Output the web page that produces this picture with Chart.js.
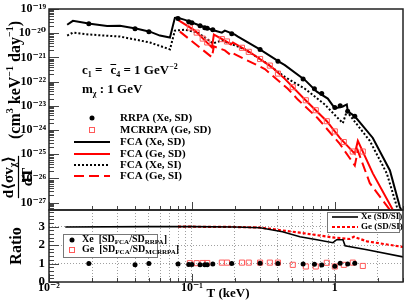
<!DOCTYPE html>
<html>
<head>
<meta charset="utf-8">
<title>FCA vs RRPA</title>
<script src="https://cdn.jsdelivr.net/npm/chart.js@4.4.1/dist/chart.umd.min.js"></script>
<style>
  html, body { margin: 0; padding: 0; background: #fff; }
  .wrap { position: relative; width: 415px; height: 300px; }
  .wrap canvas { position: absolute; left: 0; top: 0; }
</style>
</head>
<body>
<div class="wrap">
  <canvas id="ratioChart" width="415" height="300"></canvas>
  <canvas id="rateChart" width="415" height="300"></canvas>
</div>
<script>
// T in keV, d<sigma v>/dT in cm^3 keV^-1 day^-1
const xeSdT   = [0.0134, 0.0147, 0.0194, 0.0255, 0.0314, 0.0413, 0.0508, 0.0597, 0.0702, 0.0760, 0.0786, 0.0893, 0.110, 0.138, 0.162, 0.170, 0.200, 0.210, 0.299, 0.412, 0.447, 0.617, 0.748, 0.893, 1.00, 1.138, 1.213, 1.233, 1.38, 1.845, 2.43, 2.85, 2.92];
const xeSdVal = [2.24e-20, 3.25e-20, 2.45e-20, 2.0e-20, 2.04e-20, 1.54e-20, 1.16e-20, 7.98e-21, 6.62e-21, 4.31e-20, 4.4e-20, 3.57e-20, 2.24e-20, 1.40e-20, 1.06e-20, 1.28e-20, 8.77e-21, 7.28e-21, 2.15e-21, 6.38e-22, 4.82e-22, 1.18e-22, 3.85e-23, 2.0e-23, 7.84e-24, 9.46e-24, 1.14e-23, 5.92e-24, 3.70e-24, 4.73e-25, 2.15e-26, 6.75e-28, 5.0e-28];

const xeSiT   = [0.0134, 0.0147, 0.0194, 0.0314, 0.0508, 0.0702, 0.0760, 0.0893, 0.110, 0.129, 0.140, 0.162, 0.200, 0.235, 0.324, 0.447, 0.617, 0.851, 1.00, 1.138, 1.213, 1.758, 2.31, 2.72, 2.78];
const xeSiVal = [7.98e-21, 1.06e-20, 8.77e-21, 7.28e-21, 4.15e-21, 2.15e-21, 1.28e-20, 1.40e-20, 1.06e-20, 5.49e-21, 3.8e-21, 5.0e-21, 3.13e-21, 2.15e-21, 6.38e-22, 1.57e-22, 5.10e-23, 1.14e-23, 4.2e-24, 1.93e-24, 5.92e-24, 3.57e-25, 1.63e-26, 6.75e-28, 5.0e-28];

const geSdT   = [0.0798, 0.105, 0.138, 0.1425, 0.170, 0.1875, 0.1935, 0.255, 0.362, 0.447, 0.617, 0.879, 1.084, 1.38, 1.449, 1.845, 2.55];
const geSdVal = [3.57e-20, 1.28e-20, 2.60e-21, 8.77e-21, 5.0e-21, 3.44e-21, 4.15e-21, 1.63e-21, 4.0e-22, 1.30e-22, 1.82e-23, 2.32e-24, 4.73e-25, 1.06e-25, 3.57e-25, 1.63e-26, 5.0e-28];

const geSiT   = [0.0824, 0.138, 0.1425, 0.170, 0.1875, 0.1935, 0.324, 0.469, 0.551, 0.760, 1.084, 1.38, 1.449, 1.758, 2.43];
const geSiVal = [1.16e-20, 1.02e-21, 2.85e-21, 1.96e-21, 1.23e-21, 1.48e-21, 3.31e-22, 5.10e-23, 1.82e-23, 3.07e-24, 2.70e-25, 3.44e-26, 1.40e-25, 6.38e-27, 5.0e-28];

const rrpaT   = [0.019, 0.040, 0.050, 0.080, 0.095, 0.100, 0.114, 0.123, 0.128, 0.140, 0.190, 0.300, 0.400, 0.600, 0.720, 0.810, 1.00, 1.09, 1.23, 1.38];
const rrpaVal = [2.45e-20, 1.54e-20, 1.16e-20, 4.1e-20, 2.96e-20, 2.7e-20, 2.04e-20, 1.69e-20, 1.6e-20, 1.40e-20, 9.6e-21, 2.15e-21, 7.01e-22, 1.30e-22, 5.10e-23, 3.2e-23, 8.6e-24, 1.0e-23, 5.92e-24, 3.70e-24];
const rrpaRatio = [1.0, 0.93, 1.0, 0.98, 0.95, 0.95, 0.94, 0.94, 0.94, 0.97, 1.0, 1.02, 1.0, 0.98, 0.96, 0.92, 0.85, 1.02, 0.97, 1.02];

const mcrrpaT   = [0.0968, 0.108, 0.119, 0.128, 0.162, 0.176, 0.224, 0.250, 0.300, 0.351, 0.400, 0.508, 0.627, 0.736, 0.879, 1.00, 1.156, 1.336, 1.57];
const mcrrpaVal = [1.72e-20, 1.06e-20, 6.0e-21, 4.15e-21, 5.7e-21, 4.56e-21, 2.5e-21, 1.7e-21, 8.6e-22, 4.6e-22, 2.15e-22, 5.9e-23, 1.7e-23, 6.6e-24, 2.32e-24, 8.8e-25, 3.2e-25, 1.3e-25, 1.3e-25];
const mcrrpaRatio = [1.02, 1.02, 1.03, 1.03, 1.05, 1.05, 1.05, 1.05, 1.05, 1.05, 1.05, 0.93, 0.84, 0.84, 1.04, 0.84, 0.93, 1.05, 0.87];

// SD/SI ratios
const xeRatioT   = [0.013, 0.05, 0.1, 0.2, 0.3, 0.43, 0.57, 0.75, 0.97, 1.03, 1.14, 1.18, 1.68, 3.0];
const xeRatioVal = [2.98, 3.0, 3.0, 2.98, 2.94, 2.72, 2.45, 2.29, 2.13, 2.29, 2.29, 1.96, 1.75, 1.36];
const geRatioT   = [0.08, 0.2, 0.3, 0.57, 1.0, 1.27, 1.36, 1.68, 3.0];
const geRatioVal = [3.0, 2.98, 2.95, 2.67, 2.4, 2.33, 2.45, 2.2, 1.9];

// axis ticks
const rateDecades = [1e-27, 1e-26, 1e-25, 1e-24, 1e-23, 1e-22, 1e-21, 1e-20, 1e-19];
const tDecades = [0.01, 0.1, 1];
const ratioLabels = [0, 1, 2, 3];

const FONT = "'Liberation Serif', 'DejaVu Serif', serif";
const bold = s => `bold ${s}px ${FONT}`;
Chart.defaults.font.family = FONT;
Chart.defaults.color = '#000';

const SUP = {'-': '⁻', '0': '⁰', '1': '¹', '2': '²', '3': '³', '4': '⁴', '5': '⁵', '6': '⁶', '7': '⁷', '8': '⁸', '9': '⁹'};
function powLabel(v) {
    const e = Math.round(Math.log10(v));
    if (e === 0) return '1';
    return '10' + String(e).split('').map(c => SUP[c]).join('');
}
function isDecade(v) {
    return Math.abs(Math.log10(v) - Math.round(Math.log10(v))) < 1e-6;
}
function pts(xs, ys) {
    return xs.map((x, i) => ({ x: x, y: ys[i] }));
}
// decades plus 2..9 minor values between given limits
function logTicks(lo, hi) {
    const out = [];
    for (let e = Math.floor(Math.log10(lo)); e <= Math.ceil(Math.log10(hi)); e++) {
        for (let m = 1; m <= 9; m++) {
            const v = Number((m * Math.pow(10, e)).toPrecision(3));
            if (v >= lo * 0.999 && v <= hi * 1.001) out.push(v);
        }
    }
    return out;
}
const tTickValues = logTicks(0.01, 3);
const rateTickValues = logTicks(5e-28, 1e-19);
const ratioTickValues = [];
for (let i = 0; i <= 19; i++) ratioTickValues.push(i / 5);

// rich text: parts = [[text, 'sub'|'sup'|null], ...]
function richWidth(ctx, parts, size) {
    let w = 0;
    parts.forEach(([t, mode]) => {
        ctx.font = bold(mode ? Math.round(size * 0.65) : size);
        w += ctx.measureText(t).width;
    });
    return w;
}
function richText(ctx, parts, x, y, size) {
    let cx = x;
    parts.forEach(([t, mode]) => {
        ctx.font = bold(mode ? Math.round(size * 0.65) : size);
        const dy = mode === 'sub' ? size * 0.3 : mode === 'sup' ? -size * 0.35 : 0;
        ctx.fillText(t, cx, y + dy);
        cx += ctx.measureText(t).width;
    });
    return cx;
}

function drawSample(ctx, ds, x0, x1, y) {
    ctx.save();
    if (ds.showLine === false) {
        const cx = (x0 + x1) / 2;
        if (ds.pointStyle === 'rect') {
            ctx.strokeStyle = ds.pointBorderColor;
            ctx.lineWidth = 1;
            ctx.strokeRect(cx - 2.5, y - 2.5, 5, 5);
        } else {
            ctx.fillStyle = ds.pointBackgroundColor;
            ctx.beginPath();
            ctx.arc(cx, y, ds.pointRadius, 0, Math.PI * 2);
            ctx.fill();
        }
    } else {
        ctx.strokeStyle = ds.borderColor;
        ctx.lineWidth = ds.borderWidth;
        ctx.setLineDash(ds.borderDash || []);
        ctx.beginPath();
        ctx.moveTo(x0, y);
        ctx.lineTo(x1, y);
        ctx.stroke();
    }
    ctx.restore();
}

// frame and inward tick marks (ROOT style)
const frameTicks = {
    id: 'frameTicks',
    afterDatasetsDraw(chart) {
        const { ctx, chartArea: a, scales } = chart;
        ctx.save();
        ctx.strokeStyle = '#444';
        ctx.lineWidth = 1;
        ctx.beginPath();
        const yVals = scales.y.type === 'logarithmic' ? rateTickValues : ratioTickValues;
        yVals.forEach(v => {
            const major = scales.y.type === 'logarithmic' ? isDecade(v) : Number.isInteger(v);
            const py = Math.round(scales.y.getPixelForValue(v)) + 0.5;
            ctx.moveTo(a.left, py);
            ctx.lineTo(a.left + (major ? 10 : 5), py);
        });
        tTickValues.forEach(v => {
            const px = Math.round(scales.x.getPixelForValue(v)) + 0.5;
            ctx.moveTo(px, a.bottom);
            ctx.lineTo(px, a.bottom - (isDecade(v) ? 8 : 4));
        });
        ctx.stroke();
        ctx.strokeStyle = '#222';
        ctx.lineWidth = 1.5;
        ctx.strokeRect(a.left, a.top, a.right - a.left, a.bottom - a.top);
        ctx.restore();
    }
};

const rateDecor = {
    id: 'rateDecor',
    afterDraw(chart) {
        const ctx = chart.ctx;
        ctx.save();
        ctx.fillStyle = '#000';
        ctx.textBaseline = 'middle';
        ctx.textAlign = 'left';

        // couplings and mass
        let x = richText(ctx, [['c', null], ['1', 'sub'], [' =', null]], 82, 71, 13);
        x += 8;
        const cStart = x;
        x = richText(ctx, [['c', null]], x, 71, 13);
        ctx.strokeStyle = '#000';
        ctx.lineWidth = 1;
        ctx.beginPath();
        ctx.moveTo(cStart, 64.5);
        ctx.lineTo(x, 64.5);
        ctx.stroke();
        richText(ctx, [['4', 'sub'], [' = 1 GeV', null], ['−2', 'sup']], x, 71, 13);
        richText(ctx, [['m', null], ['χ', 'sub'], [' : 1 GeV', null]], 82, 90, 13);

        // legend
        const rows = [118, 130, 142, 154, 165, 176];
        chart.data.datasets.forEach((ds, i) => {
            drawSample(ctx, ds, 74, 110, rows[i]);
            ctx.font = bold(11);
            ctx.fillText(ds.label, 120, rows[i]);
        });

        // y axis title
        ctx.save();
        ctx.translate(16, 80);
        ctx.rotate(-Math.PI / 2);
        ctx.textAlign = 'left';
        const t1 = [['(cm', null], ['3', 'sup'], [' keV', null], ['−1', 'sup'], [' day', null], ['−1', 'sup'], [')', null]];
        richText(ctx, t1, -richWidth(ctx, t1, 16) / 2, 0, 16);
        ctx.restore();

        ctx.save();
        ctx.translate(18, 177);
        ctx.rotate(-Math.PI / 2);
        const num = [['d⟨σv', null], ['χ', 'sub'], ['⟩', null]];
        const nw = richWidth(ctx, num, 15);
        richText(ctx, num, -nw / 2, -9, 15);
        ctx.font = bold(15);
        ctx.textAlign = 'center';
        ctx.fillText('dT', 0, 10);
        ctx.lineWidth = 1.2;
        ctx.beginPath();
        ctx.moveTo(-nw / 2, 0.5);
        ctx.lineTo(nw / 2, 0.5);
        ctx.stroke();
        ctx.restore();

        ctx.restore();
    }
};

const ratioDecor = {
    id: 'ratioDecor',
    afterDraw(chart) {
        const ctx = chart.ctx;
        const ds = chart.data.datasets;
        ctx.save();
        ctx.fillStyle = '#000';
        ctx.textBaseline = 'middle';

        // axis titles
        ctx.save();
        ctx.translate(17, 246);
        ctx.rotate(-Math.PI / 2);
        ctx.textAlign = 'center';
        ctx.font = bold(16);
        ctx.fillText('Ratio', 0, 0);
        ctx.restore();
        ctx.textAlign = 'center';
        ctx.font = bold(13);
        ctx.fillText('T (keV)', 228, 294);
        ctx.textAlign = 'left';

        // left legend box
        ctx.fillStyle = '#fff';
        ctx.fillRect(63, 234, 94, 23);
        ctx.strokeStyle = '#777';
        ctx.lineWidth = 1;
        ctx.strokeRect(63.5, 234.5, 94, 23);
        ctx.fillStyle = '#000';
        drawSample(ctx, ds[0], 67, 77, 240);
        drawSample(ctx, ds[1], 67, 77, 250);
        ctx.fillStyle = '#000';
        richText(ctx, [['Xe  [SD', null], ['FCA', 'sub'], ['/SD', null], ['RRPA', 'sub'], [']', null]], 82, 239, 10);
        richText(ctx, [['Ge  [SD', null], ['FCA', 'sub'], ['/SD', null], ['MCRRPA', 'sub'], [']', null]], 82, 249, 10);

        // right legend box
        ctx.fillStyle = '#fff';
        ctx.fillRect(327, 212, 72, 20);
        ctx.strokeStyle = '#777';
        ctx.strokeRect(327.5, 212.5, 72, 20);
        drawSample(ctx, ds[2], 332, 358, 217);
        drawSample(ctx, ds[3], 332, 358, 227);
        ctx.fillStyle = '#000';
        ctx.font = bold(9);
        ctx.fillText(ds[2].label, 361, 217);
        ctx.fillText(ds[3].label, 361, 227);
        ctx.restore();
    }
};

const tickFont = { family: FONT, size: 12, weight: 'bold', lineHeight: 1 };

new Chart(document.getElementById('rateChart'), {
    type: 'line',
    data: {
        datasets: [
            { label: 'RRPA (Xe, SD)', data: pts(rrpaT, rrpaVal), showLine: false,
              pointRadius: 2.5, pointBackgroundColor: '#000', pointBorderColor: '#000', pointBorderWidth: 0 },
            { label: 'MCRRPA (Ge, SD)', data: pts(mcrrpaT, mcrrpaVal), showLine: false, pointStyle: 'rect',
              pointRadius: 3.6, pointBackgroundColor: 'rgba(0,0,0,0)', pointBorderColor: '#ff5a5a', pointBorderWidth: 1 },
            { label: 'FCA (Xe, SD)', data: pts(xeSdT, xeSdVal), borderColor: '#000', borderWidth: 2, pointRadius: 0 },
            { label: 'FCA (Ge, SD)', data: pts(geSdT, geSdVal), borderColor: '#ff0000', borderWidth: 2, pointRadius: 0 },
            { label: 'FCA (Xe, SI)', data: pts(xeSiT, xeSiVal), borderColor: '#000', borderWidth: 2, borderDash: [2, 2], pointRadius: 0 },
            { label: 'FCA (Ge, SI)', data: pts(geSiT, geSiVal), borderColor: '#ff0000', borderWidth: 2, borderDash: [10, 5], pointRadius: 0 }
        ]
    },
    options: {
        responsive: false,
        animation: false,
        events: [],
        layout: { padding: { left: 0, top: 6, right: 12, bottom: 90 } },
        plugins: { legend: { display: false }, tooltip: { enabled: false } },
        scales: {
            x: { type: 'logarithmic', min: 0.01, max: 3, display: false },
            y: {
                type: 'logarithmic', min: 5e-28, max: 1e-19,
                grid: { display: false, drawTicks: false },
                border: { display: false },
                afterBuildTicks: s => { s.ticks = rateDecades.map(v => ({ value: v })); },
                afterFit: s => { s.width = 49; },
                ticks: { autoSkip: false, padding: 3, font: tickFont, color: '#000', callback: v => powLabel(v) }
            }
        }
    },
    plugins: [frameTicks, rateDecor]
});

new Chart(document.getElementById('ratioChart'), {
    type: 'line',
    data: {
        datasets: [
            { label: 'Xe [SD_FCA/SD_RRPA]', data: pts(rrpaT, rrpaRatio), showLine: false,
              pointRadius: 2.5, pointBackgroundColor: '#000', pointBorderColor: '#000', pointBorderWidth: 0 },
            { label: 'Ge [SD_FCA/SD_MCRRPA]', data: pts(mcrrpaT, mcrrpaRatio), showLine: false, pointStyle: 'rect',
              pointRadius: 3.6, pointBackgroundColor: 'rgba(0,0,0,0)', pointBorderColor: '#ff5a5a', pointBorderWidth: 1 },
            { label: 'Xe (SD/SI)', data: pts(xeRatioT, xeRatioVal), borderColor: '#000', borderWidth: 1.6, pointRadius: 0 },
            { label: 'Ge (SD/SI)', data: pts(geRatioT, geRatioVal), borderColor: '#ff0000', borderWidth: 2.2, borderDash: [3, 2], pointRadius: 0 }
        ]
    },
    options: {
        responsive: false,
        animation: false,
        events: [],
        layout: { padding: { left: 0, top: 210, right: 12, bottom: 0 } },
        plugins: { legend: { display: false }, tooltip: { enabled: false } },
        scales: {
            x: {
                type: 'logarithmic', min: 0.01, max: 3,
                grid: {
                    drawTicks: false, lineWidth: 0.8,
                    color: c => (c.tick && (c.tick.value <= 0.01 || c.tick.value >= 3)) ? 'rgba(0,0,0,0)' : '#888'
                },
                border: { display: false, dash: [1, 2] },
                afterBuildTicks: s => { s.ticks = tTickValues.map(v => ({ value: v })); },
                afterFit: s => { s.height = 18; },
                ticks: {
                    autoSkip: false, maxRotation: 0, padding: 0, font: tickFont, color: '#000',
                    callback: v => tDecades.some(d => Math.abs(d - v) < d * 1e-6) ? powLabel(v) : ''
                }
            },
            y: {
                min: 0, max: 3.9,
                grid: {
                    drawTicks: false, lineWidth: 0.8,
                    color: c => (c.tick && [1, 2, 3].includes(c.tick.value)) ? '#888' : 'rgba(0,0,0,0)'
                },
                border: { display: false, dash: [1, 2] },
                afterBuildTicks: s => { s.ticks = ratioTickValues.map(v => ({ value: v })); },
                afterFit: s => { s.width = 49; },
                ticks: {
                    autoSkip: false, padding: 4, font: { family: FONT, size: 13, weight: 'bold', lineHeight: 1 }, color: '#000',
                    callback: v => ratioLabels.includes(v) ? String(v) : ''
                }
            }
        }
    },
    plugins: [frameTicks, ratioDecor]
});
</script>
</body>
</html>
